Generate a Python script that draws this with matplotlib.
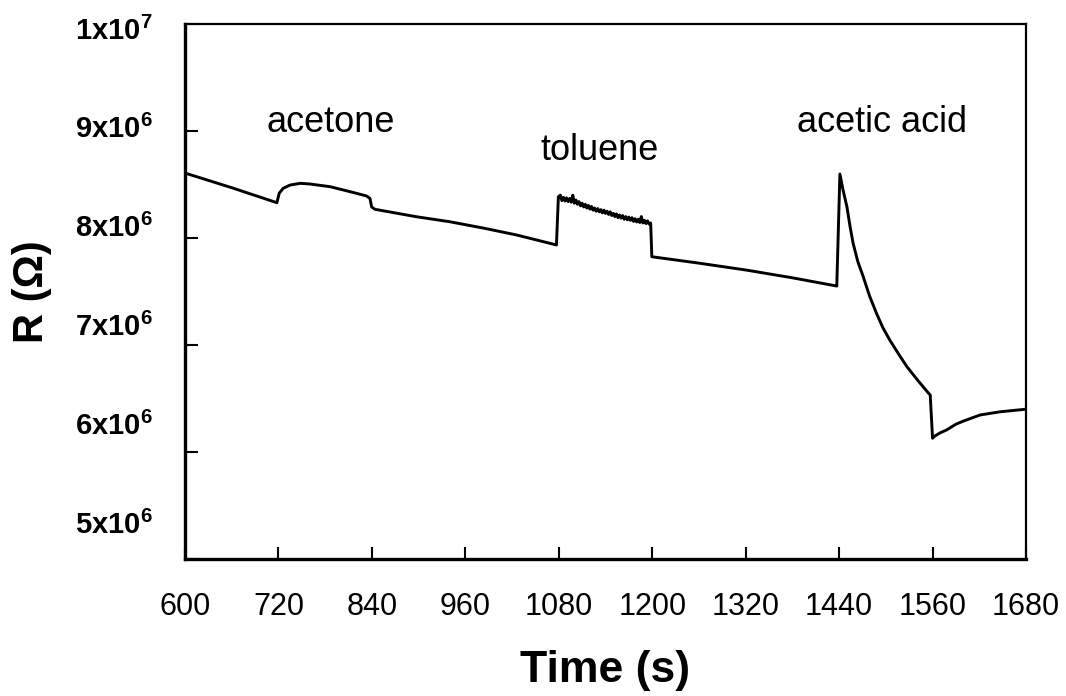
import matplotlib
matplotlib.use('Agg')
import numpy as np
import matplotlib.pyplot as plt
from matplotlib.ticker import FixedLocator

plt.rcParams['font.family'] = ['Liberation Sans', 'DejaVu Sans']
plt.rcParams['mathtext.fontset'] = 'custom'
plt.rcParams['mathtext.rm'] = 'Liberation Sans'
plt.rcParams['mathtext.bf'] = 'Liberation Sans:bold'

# baseline drift before acetone
t_base1 = [600, 660, 718]
r_base1 = [8.607e6, 8.47e6, 8.330e6]
# acetone exposure
t_acetone = [721, 726, 735, 748, 760, 786, 812, 833, 837.5, 839.7, 844]
r_acetone = [8.418e6, 8.464e6, 8.495e6, 8.511e6, 8.505e6, 8.480e6, 8.433e6, 8.393e6, 8.37e6, 8.29e6, 8.268e6]
# baseline between acetone and toluene
t_base2 = [897, 940, 983, 1026, 1077]
r_base2 = [8.199e6, 8.152e6, 8.093e6, 8.028e6, 7.935e6]
# toluene exposure (noisy)
t_toluene = [1079.5, 1082, 1084, 1086, 1088, 1090, 1092, 1094, 1096, 1098, 1100,
             1102, 1104, 1106, 1108, 1110, 1112, 1114, 1116, 1118, 1120, 1122,
             1124, 1126, 1128, 1130, 1132, 1134, 1136, 1138, 1140, 1142, 1144,
             1146, 1148, 1150, 1152, 1154, 1156, 1158, 1160, 1162, 1164, 1166,
             1168, 1170, 1172, 1174, 1176, 1178, 1180, 1182, 1184, 1186, 1188,
             1190, 1192, 1194, 1196, 1198]
r_toluene = [8.385e6, 8.40e6, 8.35e6, 8.38e6, 8.345e6, 8.375e6, 8.34e6, 8.37e6, 8.335e6, 8.40e6, 8.325e6,
             8.355e6, 8.315e6, 8.34e6, 8.30e6, 8.325e6, 8.29e6, 8.315e6, 8.28e6, 8.305e6, 8.27e6, 8.295e6,
             8.26e6, 8.28e6, 8.25e6, 8.275e6, 8.245e6, 8.265e6, 8.235e6, 8.26e6, 8.23e6, 8.25e6, 8.22e6,
             8.245e6, 8.21e6, 8.23e6, 8.20e6, 8.225e6, 8.19e6, 8.215e6, 8.185e6, 8.21e6, 8.175e6, 8.20e6,
             8.17e6, 8.195e6, 8.165e6, 8.19e6, 8.155e6, 8.18e6, 8.15e6, 8.175e6, 8.145e6, 8.20e6, 8.14e6,
             8.165e6, 8.135e6, 8.16e6, 8.13e6, 8.14e6]
# baseline between toluene and acetic acid
t_base3 = [1199.5, 1260, 1321, 1380, 1437]
r_base3 = [7.825e6, 7.765e6, 7.70e6, 7.628e6, 7.551e6]
# acetic acid exposure and recovery
t_acetic = [1441, 1445, 1450, 1454, 1458, 1464, 1471, 1479, 1488, 1496, 1505, 1516,
            1527, 1541, 1555, 1557, 1560, 1563, 1570, 1578, 1590, 1600, 1621, 1647, 1680]
r_acetic = [8.598e6, 8.45e6, 8.293e6, 8.11e6, 7.95e6, 7.78e6, 7.638e6, 7.46e6, 7.296e6, 7.165e6,
            7.047e6, 6.92e6, 6.798e6, 6.67e6, 6.548e6, 6.533e6, 6.128e6, 6.15e6, 6.18e6, 6.206e6,
            6.26e6, 6.29e6, 6.346e6, 6.376e6, 6.40e6]

time_s = t_base1 + t_acetone + t_base2 + t_toluene + t_base3 + t_acetic
resistance = r_base1 + r_acetone + r_base2 + r_toluene + r_base3 + r_acetic

x_ticks = [600, 720, 840, 960, 1080, 1200, 1320, 1440, 1560, 1680]
y_ticks = [5e6, 6e6, 7e6, 8e6, 9e6, 1e7]
y_labels = [r'$\mathbf{5x10^{6}}$', r'$\mathbf{6x10^{6}}$', r'$\mathbf{7x10^{6}}$',
            r'$\mathbf{8x10^{6}}$', r'$\mathbf{9x10^{6}}$', r'$\mathbf{1x10^{7}}$']

gas_labels = ['acetone', 'toluene', 'acetic acid']
gas_x = [787, 1133, 1495]
gas_y = [8.99e6, 8.73e6, 8.99e6]

fig = plt.figure(figsize=(10.66, 6.96), dpi=100)
ax = fig.add_axes([185 / 1066, 1 - 559 / 696, 841 / 1066, 535 / 696])

ax.plot(time_s, resistance, color='black', linewidth=2.1)

ax.set_xlim(600, 1680)
ax.set_ylim(5e6, 1e7)
ax.xaxis.set_major_locator(FixedLocator(x_ticks))
ax.yaxis.set_major_locator(FixedLocator(y_ticks))
ax.set_yticklabels([])

# y labels in the original sit a bit squeezed towards the middle
for lab, yf in zip(y_labels, np.linspace(0.063, 0.987, len(y_labels))):
    ax.text(-0.039, yf, lab, transform=ax.transAxes, ha='right', va='center', fontsize=21)

ax.tick_params(axis='x', direction='in', length=9, width=1.5, labelsize=22, pad=24)
ax.tick_params(axis='y', direction='in', length=9, width=1.5)

for side in ['left', 'bottom']:
    ax.spines[side].set_linewidth(2.4)
for side in ['top', 'right']:
    ax.spines[side].set_linewidth(1.6)

ax.set_xlabel('Time (s)', fontsize=32, fontweight='bold')
ax.xaxis.set_label_coords(0.5, -0.17)
ax.set_ylabel('R (Ω)', fontsize=30, fontweight='bold')
ax.yaxis.set_label_coords(-0.158, 0.5)

for lab, x, y in zip(gas_labels, gas_x, gas_y):
    ax.text(x, y, lab, fontsize=26, ha='center', va='baseline')

fig.savefig('out.png', dpi=100)
